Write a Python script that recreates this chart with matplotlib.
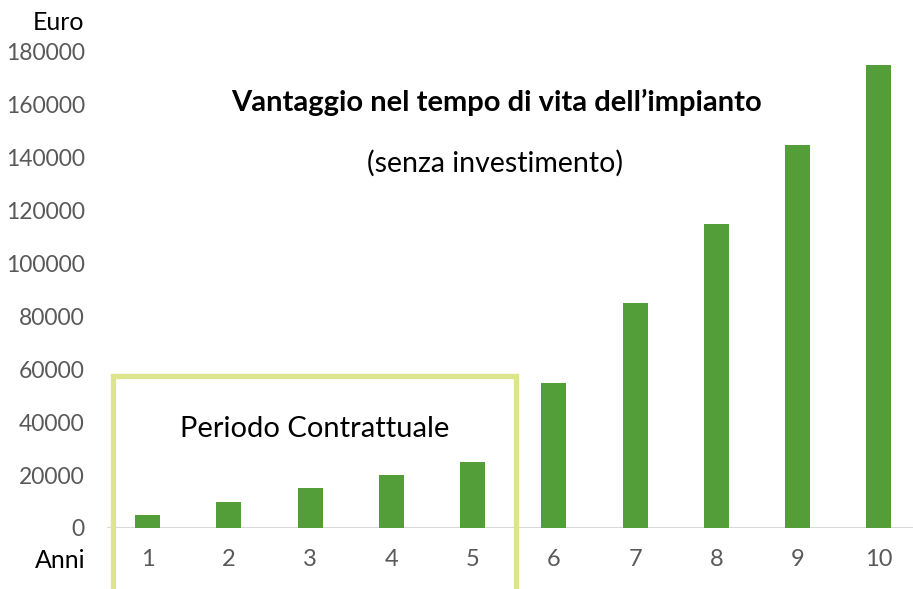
import matplotlib.pyplot as plt
from matplotlib.lines import Line2D

anni = ["1", "2", "3", "4", "5", "6", "7", "8", "9", "10"]
vantaggio = [5000, 10000, 15000, 20000, 25000, 55000, 85000, 115000, 145000, 175000]
y_ticks = [0, 20000, 40000, 60000, 80000, 100000, 120000, 140000, 160000, 180000]

plt.rcParams["font.family"] = ["Lato", "DejaVu Sans"]

fig = plt.figure(figsize=(9.13, 5.89), dpi=100)
W, H = 913, 589
ax = fig.add_axes([107 / W, 61 / H, 806 / W, 476 / H])

x = list(range(1, len(anni) + 1))
ax.bar(x, vantaggio, width=0.31, color="#549e39", zorder=2)

ax.set_xlim(0.5, 0.5 + 806 / 81.25)
ax.set_ylim(0, 180000)
ax.axhline(0, color="#d9d9d9", lw=1.5, zorder=1)

for s in ax.spines.values():
    s.set_visible(False)
ax.set_xticks(x)
ax.set_xticklabels(anni)
ax.set_yticks(y_ticks)
ax.set_yticklabels([str(v) for v in y_ticks])
ax.tick_params(axis="both", length=0, labelcolor="#595959")
ax.tick_params(axis="y", pad=16, labelsize=16.5)
ax.tick_params(axis="x", pad=15, labelsize=17)

# riquadro periodo contrattuale
bx0, bx1, btop, bbot = 0.574, 5.528, 57450, -30000
ax.add_line(Line2D([bx0, bx0, bx1, bx1], [bbot, btop, btop, bbot],
                   color="#dce48c", lw=3.8, clip_on=False, zorder=3,
                   solid_joinstyle="miter"))

ax.text(3.05, 37500, "Periodo Contrattuale", fontsize=21, ha="center", va="center")
ax.text(5.29, 161000, "Vantaggio nel tempo di vita dell\u2019impianto",
        fontsize=21, fontweight="bold", ha="center", va="center")
ax.text(5.28, 138000, "(senza investimento)", fontsize=20.5, ha="center", va="center")

fig.text(58 / W, 1 - 22 / H, "Euro", fontsize=18, ha="center", va="center")
fig.text(60 / W, 1 - 560 / H, "Anni", fontsize=18, ha="center", va="center")

fig.savefig("out.png", dpi=100)
